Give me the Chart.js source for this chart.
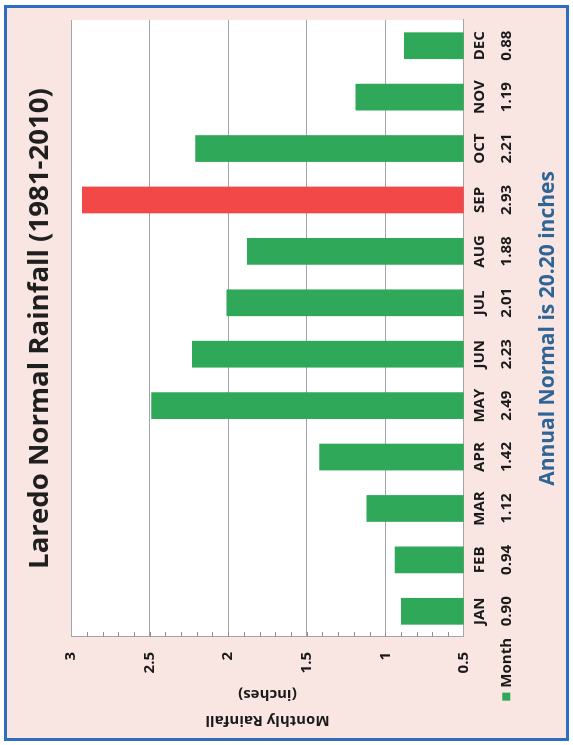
<!DOCTYPE html>
<html>
<head>
<meta charset="utf-8">
<script src="https://cdn.jsdelivr.net/npm/chart.js@4.4.0/dist/chart.umd.min.js"></script>
<style>
  html, body { margin: 0; padding: 0; background: #fff; }
  body { width: 573px; height: 745px; overflow: hidden; position: relative; }
  /* the chart is laid out landscape and turned a quarter to the left */
  #wrap {
    position: absolute; left: 0; top: 0; width: 745px; height: 573px;
    transform-origin: 0 0; transform: translate(0, 745px) rotate(-90deg);
  }
</style>
</head>
<body>
<div id="wrap"><canvas id="rain" width="745" height="573"></canvas></div>
<script>
// Laredo normal monthly rainfall 1981-2010, inches
const months = ['JAN', 'FEB', 'MAR', 'APR', 'MAY', 'JUN', 'JUL', 'AUG', 'SEP', 'OCT', 'NOV', 'DEC'];
const normals = [0.90, 0.94, 1.12, 1.42, 2.49, 2.23, 2.01, 1.88, 2.93, 2.21, 1.19, 0.88];
const normalText = ['0.90', '0.94', '1.12', '1.42', '2.49', '2.23', '2.01', '1.88', '2.93', '2.21', '1.19', '0.88'];

// value axis
const axisMin = 0.5;
const axisMax = 3;
const majorStep = 0.5;
const minorPerMajor = 5;

const FONT = '"Open Sans", "Noto Sans", sans-serif';
const GREEN = '#2fa85a';
const RED = '#f24848';
const GRID = '#a3a5ad';
const INK = '#1a1a1a';

const wettest = Math.max(...normals);
const barColors = normals.map(v => v === wettest ? RED : GREEN);

// page background, border and white plot area
const frame = {
    id: 'frame',
    beforeDraw(chart) {
        const { ctx, width, height, chartArea: a } = chart;
        ctx.save();
        ctx.fillStyle = '#fff';
        ctx.fillRect(0, 0, width, height);
        ctx.fillStyle = '#f9e5e1';
        ctx.fillRect(5, 5, width - 10, height - 10);
        ctx.strokeStyle = '#2e6ec0';
        ctx.lineWidth = 3;
        ctx.strokeRect(5.5, 5.5, 733, 562);
        ctx.fillStyle = '#fff';
        ctx.fillRect(a.left, a.top, a.right - a.left, a.bottom - a.top);
        ctx.restore();
    }
};

// small inside tick marks on the value axis
const minorTicks = {
    id: 'minorTicks',
    afterDatasetsDraw(chart) {
        const { ctx, chartArea: a } = chart;
        const y = chart.scales.y;
        const steps = Math.round((axisMax - axisMin) / majorStep) * minorPerMajor;
        ctx.save();
        ctx.strokeStyle = '#8f8f8f';
        ctx.lineWidth = 1;
        for (let i = 1; i < steps; i++) {
            const py = Math.round(y.getPixelForValue(axisMin + i * majorStep / minorPerMajor)) + 0.5;
            ctx.beginPath();
            ctx.moveTo(a.left, py);
            ctx.lineTo(a.left + 5, py);
            ctx.stroke();
        }
        ctx.restore();
    }
};

// "■ Month" key in front of the data table row
const tableKey = {
    id: 'tableKey',
    afterDraw(chart) {
        const { ctx, chartArea: a } = chart;
        const x = chart.scales.x;
        const rowY = x.top + x.options.ticks.padding + 27 * 1.5;
        ctx.save();
        ctx.font = 'bold 15px ' + FONT;
        ctx.fillStyle = INK;
        ctx.textAlign = 'right';
        ctx.textBaseline = 'middle';
        ctx.fillText('Month', a.left - 1, rowY);
        const w = ctx.measureText('Month').width;
        ctx.fillStyle = GREEN;
        ctx.fillRect(a.left - 1 - w - 13, rowY - 4, 8, 8);
        ctx.restore();
    }
};

new Chart(document.getElementById('rain'), {
    type: 'bar',
    data: {
        labels: months,
        datasets: [{
            label: 'Month',
            data: normals,
            backgroundColor: barColors,
            borderWidth: 0,
            barPercentage: 0.52,
            categoryPercentage: 1
        }]
    },
    options: {
        responsive: false,
        animation: false,
        layout: { padding: { left: 8, right: 20, top: 0, bottom: 0 } },
        plugins: {
            legend: { display: false },
            tooltip: { enabled: false },
            title: {
                display: true,
                text: 'Laredo Normal Rainfall (1981-2010)',
                fullSize: false,
                color: '#1f1f1f',
                font: { family: FONT, size: 27.6, weight: 'bold' },
                padding: { top: 24, bottom: 14 }
            },
            subtitle: {
                display: true,
                position: 'bottom',
                text: 'Annual Normal is 20.20 inches',
                fullSize: false,
                color: '#2f6496',
                font: { family: FONT, size: 21, weight: 'bold' },
                padding: { top: 12, bottom: 12 }
            }
        },
        scales: {
            x: {
                grid: { display: false, drawTicks: false },
                border: { display: true, color: GRID },
                ticks: {
                    padding: 2,
                    color: INK,
                    font: { family: FONT, size: 15, weight: 'bold', lineHeight: 27 / 15 },
                    maxRotation: 0,
                    callback: (v, i) => [months[i], normalText[i]]
                },
                afterFit: s => { s.height = 60; }
            },
            y: {
                min: axisMin,
                max: axisMax,
                grid: { color: GRID, drawTicks: false },
                border: { display: true, color: GRID },
                ticks: {
                    stepSize: majorStep,
                    padding: 15,
                    color: INK,
                    font: { family: FONT, size: 15, weight: 'bold' },
                    callback: v => String(+v.toFixed(1))
                },
                title: {
                    display: true,
                    text: ['Monthly Rainfall', '(inches)'],
                    color: INK,
                    font: { family: FONT, size: 15, weight: 'bold', lineHeight: 26 / 15 },
                    padding: { top: 4, bottom: 0 }
                },
                afterFit: s => { s.width = 100; }
            }
        }
    },
    plugins: [frame, minorTicks, tableKey]
});
</script>
</body>
</html>
